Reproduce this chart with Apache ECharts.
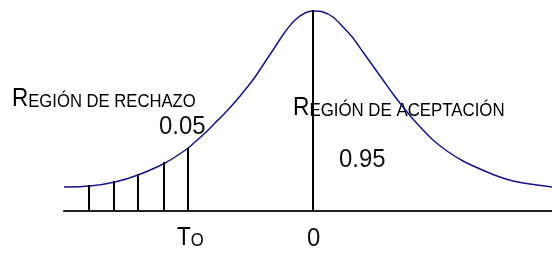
<!DOCTYPE html>
<html lang="es" style="height: 100%">
<head>
    <meta charset="utf-8">
</head>
<body style="height: 100%; margin: 0; background: #fff">
<div id="container" style="width: 552px; height: 254px"></div>

<script type="text/javascript" src="https://fastly.jsdelivr.net/npm/echarts@6/dist/echarts.min.js"></script>
<script type="text/javascript">
    // curva (x respecto al centro, altura)
    var curveX = [-249, -223, -198, -175, -148, -126, -118, -108, -98, -88, -78, -68, -58, -48, -38, -28, -18, -8, 0,
                  10, 20, 30, 40, 50, 60, 70, 80, 90, 100, 110, 120, 134, 150, 167, 184, 200, 217, 239];
    var curveY = [24, 25, 29, 36, 48, 62, 69, 78, 88, 98, 109, 121, 134, 149, 164, 179, 191, 198, 200,
                  199, 194, 184, 173, 159, 145, 131, 117, 104, 92, 81, 71, 60, 50, 42, 35, 30, 27, 24];

    // líneas de la región de rechazo
    var stemX = [-224, -199, -175, -149, -125];
    var stemY = [26, 30, 37, 49, 63];

    // línea central
    var centerX = [0];
    var centerY = [201];

    var fontFam = '"Liberation Sans", Arial, sans-serif';

    var dom = document.getElementById('container');
    var myChart = echarts.init(dom, null, {renderer: 'canvas'});

    var curveData = curveX.map(function (x, i) { return [x, curveY[i]]; });
    var stemData = stemX.map(function (x, i) { return [x, stemY[i]]; })
        .concat(centerX.map(function (x, i) { return [x, centerY[i]]; }));

    function renderStem(params, api) {
        var p0 = api.coord([api.value(0), 0]);
        var p1 = api.coord([api.value(0), api.value(1)]);
        return {
            type: 'line',
            shape: {x1: p0[0], y1: p0[1], x2: p1[0], y2: p1[1]},
            style: {stroke: '#000', lineWidth: 2}
        };
    }

    function smallCaps(big, rest) {
        return '{b|' + big + '}{s|' + rest + '}';
    }

    var rich = {
        b: {fontSize: 25, fontFamily: fontFam, color: '#111', verticalAlign: 'bottom', lineHeight: 26},
        s: {fontSize: 18.5, fontFamily: fontFam, color: '#111', verticalAlign: 'bottom', lineHeight: 26,
            padding: [0, 0, 1, 0]}
    };

    var option = {
        animation: false,
        grid: {left: 64, right: 0, top: 0, bottom: 43},
        xAxis: {
            type: 'value',
            min: -249,
            max: 239,
            axisLine: {show: true, lineStyle: {color: '#222', width: 2}},
            axisTick: {show: false},
            axisLabel: {show: false},
            splitLine: {show: false}
        },
        yAxis: {
            type: 'value',
            min: 0,
            max: 211,
            show: false
        },
        series: [
            {
                type: 'custom',
                renderItem: renderStem,
                data: stemData,
                z: 3
            },
            {
                type: 'line',
                data: curveData,
                smooth: 0.3,
                symbol: 'none',
                lineStyle: {color: '#14148c', width: 1.5},
                z: 2
            }
        ],
        graphic: [
            {type: 'text', x: 12, y: 86, scaleX: 0.9,
             style: {text: smallCaps('R', 'EGIÓN DE RECHAZO'), rich: rich}},
            {type: 'text', x: 293, y: 95, scaleX: 0.91,
             style: {text: smallCaps('R', 'EGIÓN DE ACEPTACIÓN'), rich: rich}},
            {type: 'text', x: 159, y: 114, scaleX: 0.92,
             style: {text: '0.05', fontSize: 26, fontFamily: fontFam, fill: '#111'}},
            {type: 'text', x: 339, y: 147, scaleX: 0.92,
             style: {text: '0.95', fontSize: 26, fontFamily: fontFam, fill: '#111'}},
            {type: 'text', x: 177, y: 225, scaleX: 0.9,
             style: {text: smallCaps('T', 'O'), rich: rich}},
            {type: 'text', x: 307, y: 226, scaleX: 0.92,
             style: {text: '0', fontSize: 26, fontFamily: fontFam, fill: '#111'}}
        ]
    };

    myChart.setOption(option);
    window.addEventListener('resize', myChart.resize);
</script>
</body>
</html>
